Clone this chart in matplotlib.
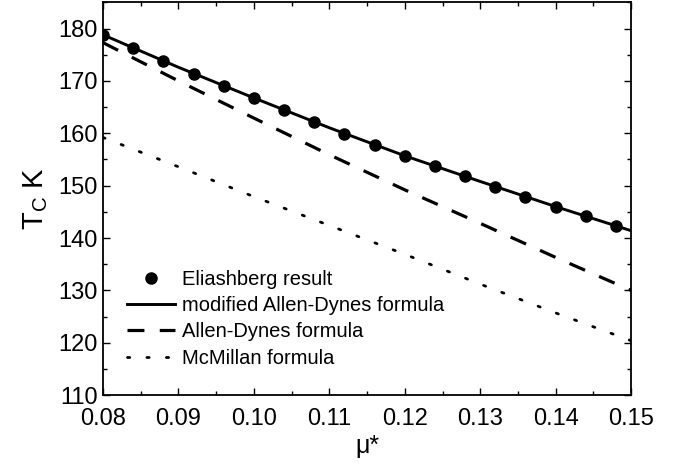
import matplotlib
matplotlib.use('Agg')
import matplotlib.pyplot as plt
from matplotlib.ticker import MultipleLocator
import numpy as np

plt.rcParams['font.family'] = ['Liberation Sans', 'DejaVu Sans']
plt.rcParams['mathtext.fontset'] = 'custom'
plt.rcParams['mathtext.rm'] = 'Liberation Sans'

# Eliashberg points
mu_eli = [0.080, 0.084, 0.088, 0.092, 0.096, 0.100, 0.104, 0.108, 0.112,
          0.116, 0.120, 0.124, 0.128, 0.132, 0.136, 0.140, 0.144, 0.148]
tc_eli = [178.8, 176.2, 173.75, 171.4, 169.1, 166.75, 164.5, 162.2, 159.9,
          157.8, 155.7, 153.8, 151.75, 149.8, 147.9, 146.0, 144.2, 142.3]

# formula curves
mu_line = [0.08, 0.09, 0.10, 0.11, 0.12, 0.13, 0.14, 0.15]
tc_mod_ad = [178.8, 172.6, 166.75, 161.05, 155.7, 150.8, 146.0, 141.4]
tc_ad = [177.3, 170.0, 162.9, 155.9, 149.2, 142.8, 136.3, 130.0]
tc_mcm = [159.2, 153.6, 147.9, 142.4, 136.9, 131.2, 125.7, 120.4]

fig = plt.figure(figsize=(6.94, 4.66), dpi=100)
ax = fig.add_axes([0.1484, 0.152, 0.761, 0.843])

ax.plot(mu_eli, tc_eli, 'o', color='black', markersize=8, label='Eliashberg result')
ax.plot(mu_line, tc_mod_ad, '-', color='black', lw=2.1, label='modified Allen-Dynes formula')
ax.plot(mu_line, tc_ad, color='black', lw=2.3, linestyle=(0, (5.3, 4.8)),
        label='Allen-Dynes formula')
ax.plot(mu_line, tc_mcm, color='black', lw=2.0, linestyle=(0, (0.8, 6.2)),
        dash_capstyle='round', label='McMillan formula')

ax.set_xlim(0.08, 0.15)
ax.set_ylim(110, 185)
ax.xaxis.set_major_locator(MultipleLocator(0.01))
ax.xaxis.set_minor_locator(MultipleLocator(0.005))
ax.yaxis.set_major_locator(MultipleLocator(10))
ax.yaxis.set_minor_locator(MultipleLocator(5))
ax.xaxis.set_major_formatter(plt.FuncFormatter(lambda v, p: '%.2f' % v))

ax.tick_params(which='both', direction='in', top=True, right=True, labelsize=17, width=1)
ax.tick_params(which='major', length=5)
ax.tick_params(which='minor', length=3)
ax.tick_params(axis='x', pad=9)
ax.tick_params(axis='y', pad=4)
for s in ax.spines.values():
    s.set_linewidth(1.3)

ax.set_xlabel('μ*', fontsize=18, labelpad=3)
ax.set_ylabel(r'T$_\mathrm{C}$ K', fontsize=21, labelpad=6)

leg = ax.legend(loc='lower left', bbox_to_anchor=(0.045, 0.07), frameon=False,
                fontsize=14.5, handlelength=2.4, handletextpad=0.35,
                labelspacing=0.36, borderpad=0, borderaxespad=0, numpoints=1)

fig.savefig('out.png', dpi=100)
